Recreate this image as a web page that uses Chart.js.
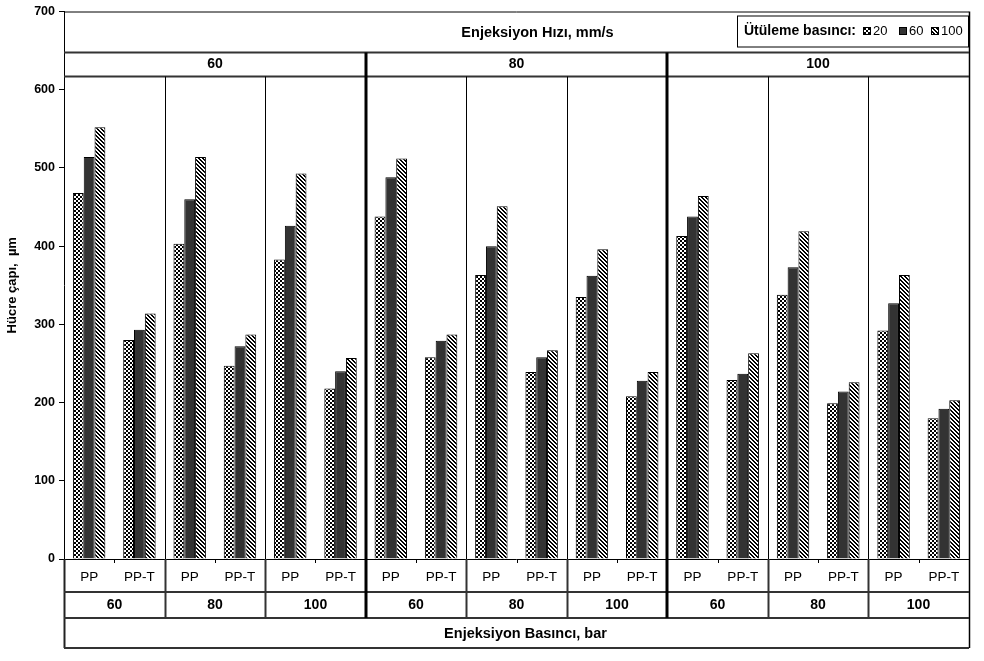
<!DOCTYPE html>
<html>
<head>
<meta charset="utf-8">
<script src="https://cdn.jsdelivr.net/npm/chart.js@4/dist/chart.umd.min.js"></script>
<style>
  html, body { margin: 0; padding: 0; background: #fff; }
</style>
</head>
<body>
<canvas id="cellChart" width="984" height="661"></canvas>
<script>
// grouping of the x axis: speed > pressure > material
const speeds = ['60', '80', '100'];
const pressures = ['60', '80', '100'];
const materials = ['PP', 'PP-T'];
const seriesNames = ['20', '60', '100'];

// cell diameter (µm) for each packing pressure
const ut20 = [468, 280, 403, 247, 383, 218, 438, 258, 363, 239, 335, 208, 413, 229, 338, 199, 292, 180];
const ut60 = [514, 293, 460, 272, 426, 240, 488, 279, 400, 258, 362, 228, 438, 237, 373, 214, 327, 192];
const ut100 = [552, 314, 514, 287, 493, 257, 512, 287, 451, 267, 396, 239, 464, 263, 419, 226, 363, 203];

const yTicks = [0, 100, 200, 300, 400, 500, 600, 700];

const labels = [];
speeds.forEach(s => pressures.forEach(p => materials.forEach(m => labels.push(s + '|' + p + '|' + m))));

const FONT = '"Liberation Sans", Arial, sans-serif';

function makePattern(kind) {
    const c = document.createElement('canvas');
    c.width = 4; c.height = 4;
    const g = c.getContext('2d');
    g.fillStyle = '#fff';
    g.fillRect(0, 0, 4, 4);
    g.fillStyle = '#000';
    if (kind === 'dots') {
        g.fillRect(0, 0, 2, 2);
        g.fillRect(2, 2, 2, 2);
    } else {
        for (let i = 0; i < 4; i++) {
            g.fillRect(i, i, 1, 1);
            g.fillRect((i + 1) % 4, i, 1, 1);
        }
    }
    return g.createPattern(c, 'repeat');
}

const fills = [makePattern('dots'), '#333333', makePattern('hatch')];

const frame = {
    id: 'frame',
    afterDatasetsDraw(chart) {
        const { ctx, chartArea: a, scales: { x } } = chart;
        const n = labels.length;
        const w = (a.right - a.left) / n;
        const edge = i => Math.round(a.left + i * w);
        const perSpeed = pressures.length * materials.length;

        const line = (x1, y1, x2, y2, width, color) => {
            ctx.beginPath();
            ctx.lineWidth = width;
            ctx.strokeStyle = color;
            ctx.moveTo(x1, y1);
            ctx.lineTo(x2, y2);
            ctx.stroke();
        };
        const text = (str, tx, ty, font, align) => {
            ctx.font = font;
            ctx.fillStyle = '#000';
            ctx.textAlign = align || 'center';
            ctx.textBaseline = 'middle';
            ctx.fillText(str, tx, ty);
        };

        ctx.save();
        const h1 = a.top + 41, h2 = a.top + 65;
        const b1 = a.bottom + 33, b2 = a.bottom + 59, b3 = a.bottom + 89;

        // outer frame
        line(a.left, a.top + 0.5, a.right, a.top + 0.5, 1, '#000');
        line(a.right + 0.5, a.top, a.right + 0.5, b3, 1.5, '#000');
        line(a.left, a.bottom + 0.5, a.right, a.bottom + 0.5, 1, '#000');
        line(a.left + 0.5, a.bottom, a.left + 0.5, b3, 2, '#222');

        // header bands
        line(a.left, h1, a.right, h1, 2, '#333');
        line(a.left, h2, a.right, h2, 2, '#333');

        // bottom bands
        line(a.left, b1, a.right, b1, 2, '#333');
        line(a.left, b2, a.right, b2, 2, '#333');
        line(a.left, b3, a.right, b3, 2, '#333');

        for (let i = 1; i < n; i++) {
            const xe = edge(i);
            if (i % perSpeed === 0) {
                line(xe, h1, xe, b2, 3, '#000');
            } else if (i % materials.length === 0) {
                line(xe + 0.5, h2, xe + 0.5, a.bottom, 1, '#000');
                line(xe + 0.5, a.bottom, xe + 0.5, b2, 2, '#333');
            } else {
                line(xe + 0.5, a.bottom, xe + 0.5, a.bottom + 4, 1, '#000');
            }
        }

        // category labels
        labels.forEach((lab, i) => {
            const cx = x.getPixelForValue(i);
            text(lab.split('|')[2], cx, a.bottom + 18, '13.5px ' + FONT);
        });
        speeds.forEach((s, si) => {
            pressures.forEach((p, pi) => {
                const first = si * perSpeed + pi * materials.length;
                const cx = (edge(first) + edge(first + materials.length)) / 2;
                text(p, cx, a.bottom + 46, 'bold 14px ' + FONT);
            });
            const cx = (edge(si * perSpeed) + edge((si + 1) * perSpeed)) / 2;
            text(s, cx, a.top + 53, 'bold 14px ' + FONT);
        });

        text('Enjeksiyon Basıncı, bar', (a.left + a.right) / 2 + 9, a.bottom + 75, 'bold 14.5px ' + FONT);
        text('Enjeksiyon Hızı, mm/s', (a.left + a.right) / 2 + 21, a.top + 21, 'bold 14.5px ' + FONT);

        // legend box
        const lx = 737, ly = a.top + 4, lw = 231, lh = 31;
        ctx.lineWidth = 1;
        ctx.strokeStyle = '#000';
        ctx.strokeRect(lx + 0.5, ly + 0.5, lw, lh);
        const my = ly + lh / 2;
        text('Ütüleme basıncı:', lx + 7, my, 'bold 14px ' + FONT, 'left');
        const markX = [863, 899, 931];
        seriesNames.forEach((name, i) => {
            ctx.fillStyle = fills[i];
            ctx.fillRect(markX[i], my - 4, 8, 8);
            ctx.strokeStyle = '#000';
            ctx.lineWidth = 1;
            ctx.strokeRect(markX[i] + 0.5, my - 3.5, 7, 7);
            text(name, markX[i] + 10, my, '13px ' + FONT, 'left');
        });
        ctx.restore();
    }
};

new Chart(document.getElementById('cellChart'), {
    type: 'bar',
    data: {
        labels: labels,
        datasets: [ut20, ut60, ut100].map((values, i) => ({
            label: seriesNames[i],
            data: values,
            backgroundColor: fills[i],
            borderColor: '#000',
            borderWidth: 1,
            categoryPercentage: 0.645,
            barPercentage: 1
        }))
    },
    options: {
        responsive: false,
        animation: false,
        layout: { padding: { top: 11, right: 15, bottom: 102, left: 0 } },
        plugins: {
            legend: { display: false },
            tooltip: { enabled: false }
        },
        scales: {
            x: { display: false },
            y: {
                min: yTicks[0],
                max: yTicks[yTicks.length - 1],
                afterBuildTicks: axis => { axis.ticks = yTicks.map(v => ({ value: v })); },
                afterFit: axis => { axis.width = 64; },
                ticks: {
                    color: '#000',
                    font: { family: FONT, size: 12.5, weight: 'bold' },
                    padding: 4
                },
                grid: { drawOnChartArea: false, drawTicks: true, tickLength: 5, color: '#000' },
                border: { color: '#000', width: 1 },
                title: {
                    display: true,
                    text: 'Hücre çapı,  µm',
                    color: '#000',
                    font: { family: FONT, size: 13, weight: 'bold' },
                    padding: { top: 5, bottom: 0 }
                }
            }
        }
    },
    plugins: [frame]
});
</script>
</body>
</html>
